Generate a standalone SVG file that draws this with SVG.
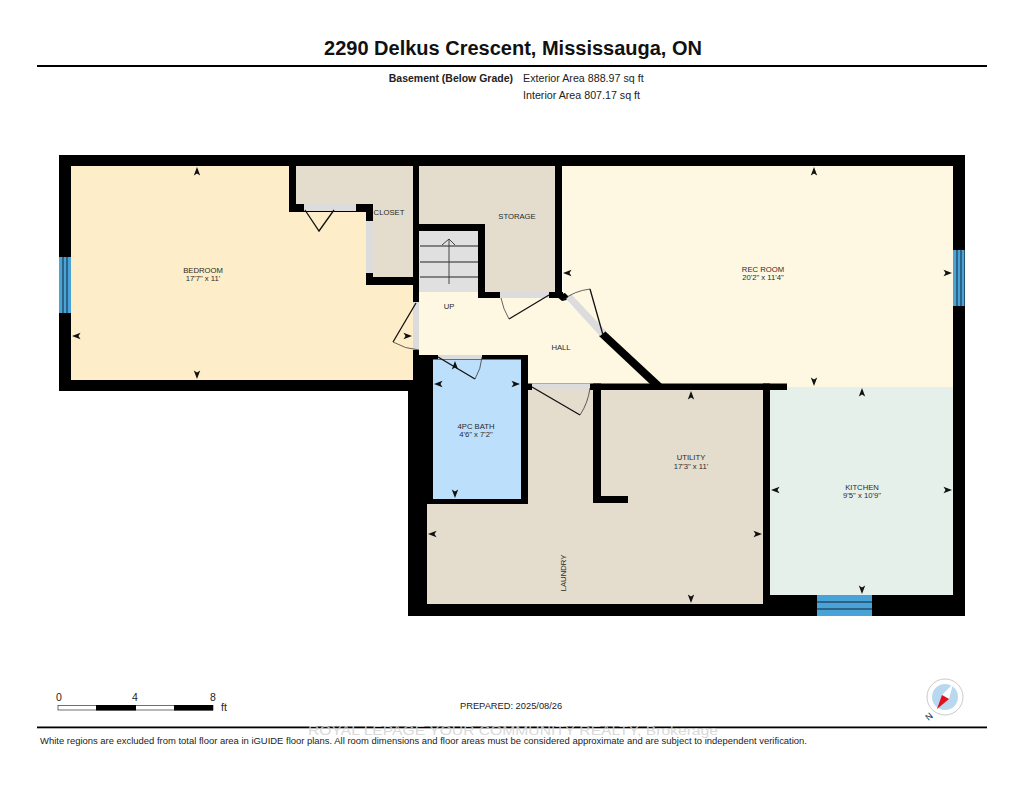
<svg xmlns="http://www.w3.org/2000/svg" width="1024" height="791" viewBox="0 0 1024 791">
<style>
text{font-family:"Liberation Sans",Arial,sans-serif;fill:#222}
.r{font-size:7.7px;text-anchor:middle;fill:#2a2a2a}
.w{fill:#000}
.g{fill:#dcdcdc}
.b{fill:#4aa3d8}
.bl{stroke:#123;stroke-width:1;fill:none}
.d{stroke:#111;stroke-width:1.3;fill:none}
.a{stroke:#222;stroke-width:.7;fill:none}
</style>
<defs>
<path id="ah" d="M0-5 L3.200 3.500 L0 1.500 L-3.200 3.500Z" fill="#111"/>
</defs>
<rect width="1024" height="791" fill="#fff"/>
<g id="header">
<text x="513" y="55" font-size="20" font-weight="700" text-anchor="middle" style="fill:#111">2290 Delkus Crescent, Mississauga, ON</text>
<rect x="37" y="65" width="950" height="2" class="w"/>
<text x="513" y="82" font-size="10.500" font-weight="700" text-anchor="end">Basement (Below Grade)</text>
<text x="523" y="82" font-size="10.700">Exterior Area 888.97 sq ft</text>
<text x="523" y="98.500" font-size="10.700">Interior Area 807.17 sq ft</text>
</g>
<g id="bedroom">
<polygon points="71,166 289,166 289,212 366,212 366,285 413,285 413,380 71,380" fill="#fdedc8"/>
<text class="r" x="203" y="272.500">BEDROOM</text><text class="r" x="203" y="281">17'7" x 11'</text>
</g>
<g id="closet">
<polygon points="296,166 413,166 413,277 373,277 373,204 296,204" fill="#e4dccd"/>
<text class="r" x="389" y="215">CLOSET</text>
</g>
<g id="storage">
<polygon points="419,166 555,166 555,292 485,292 485,224 419,224" fill="#e4dccd"/>
<text class="r" x="517" y="219">STORAGE</text>
</g>
<g id="rec-room">
<polygon points="562,166 953,166 953,387 787,387 787,383 658,383 563,297" fill="#fef8e3"/>
<text class="r" x="763" y="271.500">REC ROOM</text><text class="r" x="763" y="280">20'2" x 11'4"</text>
</g>
<g id="hall">
<polygon points="419,292 478,292 478,298 563,298 655,384 528,384 528,355 419,355" fill="#fef8e3"/>
<text class="r" x="561" y="350">HALL</text><text class="r" x="449" y="309">UP</text>
</g>
<g id="stairs">
<rect x="419" y="231" width="59" height="61" fill="#e0e0e0"/>
<path d="M420 246H478M420 262H478M420 277H478" stroke="#222" stroke-width="1"/>
<path d="M449 284V239M442 245L449 239L455 245" stroke="#333" stroke-width=".9" fill="none"/>
</g>
<g id="bath">
<rect x="433" y="359" width="88" height="140" fill="#bce0fb"/>
<text class="r" x="476" y="429">4PC BATH</text><text class="r" x="476" y="437">4'6" x 7'2"</text>
</g>
<g id="laundry-utility">
<polygon points="528,390 763,390 763,604 427,604 427,504 528,504" fill="#e4dccd"/>
<text class="r" x="691" y="460">UTILITY</text><text class="r" x="691" y="468.500">17'3" x 11'</text>
<text class="r" transform="translate(566,573) rotate(-90)">LAUNDRY</text>
</g>
<g id="kitchen">
<rect x="770" y="387" width="183" height="208" fill="#e6f0ea"/>
<text class="r" x="862" y="489.500">KITCHEN</text><text class="r" x="862" y="498">9'5" x 10'9"</text>
</g>
<g id="walls" class="w">
<rect x="59" y="155" width="906" height="11"/>
<rect x="59" y="155" width="12" height="236"/>
<rect x="59" y="380" width="354" height="11"/>
<rect x="953" y="155" width="12" height="461"/>
<rect x="408" y="604" width="362" height="12"/>
<rect x="763" y="595" width="202" height="21"/>
<rect x="408" y="380" width="19" height="236"/>
<rect x="413" y="355" width="20" height="149"/>
<rect x="413" y="350" width="6" height="9"/>
<rect x="419" y="355" width="108" height="4.500"/>
<rect x="521" y="355" width="7" height="149"/>
<rect x="427" y="499" width="101" height="5"/>
<rect x="289" y="166" width="7" height="46"/>
<rect x="289" y="204" width="84" height="8"/>
<rect x="366" y="204" width="7" height="81"/>
<rect x="366" y="277" width="47" height="8"/>
<rect x="413" y="166" width="6" height="136"/>
<rect x="419" y="224" width="66" height="7"/>
<rect x="478" y="224" width="7" height="74"/>
<rect x="478" y="292" width="85" height="6"/>
<rect x="555" y="166" width="7" height="132"/>
<rect x="528" y="383.500" width="259" height="6.500"/>
<rect x="593" y="383.500" width="8" height="119.500"/>
<rect x="593" y="496" width="35" height="7"/>
<rect x="763" y="383.500" width="7" height="222"/>
<polygon points="565,293 571,299 562,301 556,296"/>
<polygon points="605,331 662,384 650,384 599,336"/>
</g>
<g id="doors">
<rect x="304" y="204" width="52" height="7" class="g"/>
<rect x="366" y="221" width="7" height="52" class="g"/>
<rect x="413" y="302" width="6" height="48" class="g"/>
<rect x="500" y="292" width="49" height="6" class="g"/>
<polygon points="566,299 571,294 606,331 600,336" class="g"/>
<rect x="438" y="355" width="44" height="4" class="g"/>
<rect x="532" y="383.500" width="58" height="6.500" class="g"/>
<path class="d" d="M305 210L319 231L334 210M416 303L393 342M549 295L509 319M590 289L603 335M438 357L475 379M532 387L580 415"/>
<path class="a" d="M393 342Q405 349 419 350M509 319Q503 309 501 298M590 289Q574 291 563 300M475 379Q481 369 482 357M580 415Q588 403 590 388"/>
</g>
<g id="windows">
<rect x="59" y="257" width="12" height="56" class="b"/>
<path class="bl" d="M63 257V313M67 257V313"/>
<rect x="953" y="250" width="11.500" height="56" class="b"/>
<path class="bl" d="M957 250V306M961 250V306"/>
<rect x="817" y="595" width="55" height="21" class="b"/>
<path class="bl" d="M817 602H872M817 609H872"/>
</g>
<g id="dimension-arrows">
<use href="#ah" transform="translate(197,172)"/><use href="#ah" transform="translate(197,374) rotate(180)"/>
<use href="#ah" transform="translate(77,336) rotate(-90)"/><use href="#ah" transform="translate(407,336) rotate(90)"/>
<use href="#ah" transform="translate(814,172)"/><use href="#ah" transform="translate(814,381) rotate(180)"/>
<use href="#ah" transform="translate(568,273) rotate(-90)"/><use href="#ah" transform="translate(947,273) rotate(90)"/>
<use href="#ah" transform="translate(862,393)"/><use href="#ah" transform="translate(862,589) rotate(180)"/>
<use href="#ah" transform="translate(776,490) rotate(-90)"/><use href="#ah" transform="translate(947,490) rotate(90)"/>
<use href="#ah" transform="translate(691,396)"/><use href="#ah" transform="translate(691,598) rotate(180)"/>
<use href="#ah" transform="translate(433,534) rotate(-90)"/><use href="#ah" transform="translate(757,534) rotate(90)"/>
<use href="#ah" transform="translate(455,366)"/><use href="#ah" transform="translate(455,493) rotate(180)"/>
<use href="#ah" transform="translate(439,384) rotate(-90)"/><use href="#ah" transform="translate(515,384) rotate(90)"/>
</g>
<g id="scale">
<rect x="58" y="705.500" width="155" height="4.500" fill="#fff" stroke="#333" stroke-width=".7"/>
<rect x="96" y="705" width="40" height="5.500" class="w"/><rect x="174" y="705" width="39" height="5.500" class="w"/>
<text x="59" y="701" font-size="10.500" text-anchor="middle">0</text>
<text x="135" y="701" font-size="10.500" text-anchor="middle">4</text>
<text x="213" y="701" font-size="10.500" text-anchor="middle">8</text>
<text x="221" y="711" font-size="10.500">ft</text>
</g>
<g id="compass">
<circle cx="945" cy="697" r="18" fill="#fff" stroke="#bbb" stroke-width=".8"/>
<circle cx="945" cy="697" r="13" fill="#b8d8f0"/>
<polygon points="953,684 942,695 949,699" fill="#fff"/>
<polygon points="949,699 942,695 937,709" fill="#e2101e"/>
<text font-size="9" text-anchor="middle" transform="translate(931,719) rotate(-40)">N</text>
</g>
<g id="footer">
<text x="460" y="709" font-size="9.300">PREPARED: 2025/08/26</text>
<rect x="37" y="726.500" width="950" height="1.800" class="w"/>
<text x="40" y="743.500" font-size="9.450">White regions are excluded from total floor area in iGUIDE floor plans. All room dimensions and floor areas must be considered approximate and are subject to independent verification.</text>
<text x="308" y="734.500" font-size="13.500" textLength="410" lengthAdjust="spacingAndGlyphs" style="fill:#d4d4d4" fill-opacity=".9">ROYAL LEPAGE YOUR COMMUNITY REALTY, Brokerage</text>
</g>
</svg>
